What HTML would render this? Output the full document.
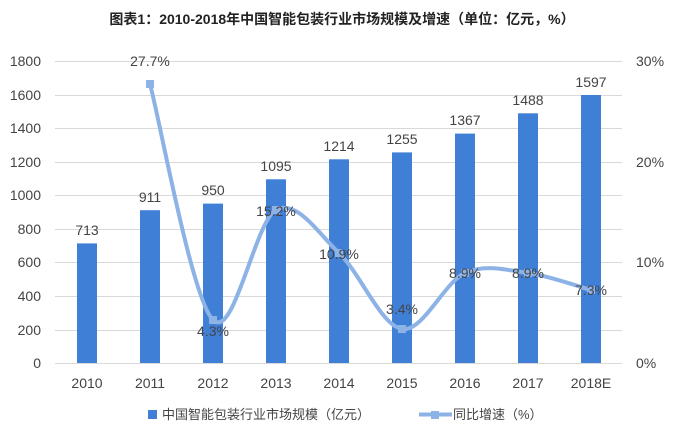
<!DOCTYPE html>
<html><head><meta charset="utf-8"><style>
body{margin:0;background:#fff;}
</style></head><body>
<svg width="684" height="434" xmlns="http://www.w3.org/2000/svg" font-family="'Liberation Sans','Noto Sans CJK SC',sans-serif">
<text x="342" y="24" text-anchor="middle" font-size="14" font-weight="bold" fill="#222">图表1：2010-2018年中国智能包装行业市场规模及增速（单位：亿元，%）</text>
<g stroke="#d9d9d9" stroke-width="1">
<line x1="55" y1="61.5" x2="622" y2="61.5"/><line x1="55" y1="95.5" x2="622" y2="95.5"/>
<line x1="55" y1="128.5" x2="622" y2="128.5"/><line x1="55" y1="162.5" x2="622" y2="162.5"/>
<line x1="55" y1="195.5" x2="622" y2="195.5"/><line x1="55" y1="229.5" x2="622" y2="229.5"/>
<line x1="55" y1="262.5" x2="622" y2="262.5"/><line x1="55" y1="296.5" x2="622" y2="296.5"/>
<line x1="55" y1="330.5" x2="622" y2="330.5"/><line x1="55" y1="363.5" x2="622" y2="363.5"/>
</g>
<g font-size="14" fill="#444" text-anchor="end">
<text x="41" y="66">1800</text><text x="41" y="100">1600</text><text x="41" y="133">1400</text>
<text x="41" y="167">1200</text><text x="41" y="200">1000</text><text x="41" y="234">800</text>
<text x="41" y="267">600</text><text x="41" y="301">400</text><text x="41" y="335">200</text><text x="41" y="368">0</text>
</g>
<g font-size="14" fill="#444">
<text x="636" y="66">30%</text><text x="636" y="267">10%</text><text x="636" y="167">20%</text><text x="636" y="368">0%</text>
</g>
<g fill="#3f7fd6">
<rect x="77" y="243.4" width="20" height="119.6"/>
<rect x="140" y="210.2" width="20" height="152.8"/>
<rect x="203" y="203.6" width="20" height="159.4"/>
<rect x="266" y="179.3" width="20" height="183.7"/>
<rect x="329" y="159.3" width="20" height="203.7"/>
<rect x="392" y="152.4" width="20" height="210.6"/>
<rect x="455" y="133.6" width="20" height="229.4"/>
<rect x="518" y="113.3" width="20" height="249.7"/>
<rect x="581" y="95" width="20" height="268"/>
</g>
<g font-size="14" fill="#444" text-anchor="middle">
<text x="87" y="235">713</text><text x="150" y="202">911</text><text x="213" y="195">950</text>
<text x="276" y="171">1095</text><text x="339" y="151">1214</text><text x="402" y="144">1255</text>
<text x="465" y="125">1367</text><text x="528" y="105">1488</text><text x="591" y="87">1597</text>
</g>
<path d="M150,84 C160.5,123.3 192,299 213,320 C234,341 255,221 276,210 C297,198.8 318,233.2 339,253 C360,272.8 381,325.7 402,329 C423,332.3 444,282.3 465,273 C486,263.7 507,270.2 528,273 C549,275.8 580.5,287.2 591,290" fill="none" stroke="#8db3e6" stroke-width="4"/>
<g fill="#8db3e6">
<rect x="146" y="80" width="8" height="8"/><rect x="209" y="316" width="8" height="8"/>
<rect x="272" y="206" width="8" height="8"/><rect x="335" y="249" width="8" height="8"/>
<rect x="398" y="325" width="8" height="8"/><rect x="461" y="269" width="8" height="8"/>
<rect x="524" y="269" width="8" height="8"/><rect x="587" y="286" width="8" height="8"/>
</g>
<g font-size="14" fill="#444" text-anchor="middle">
<text x="150" y="66">27.7%</text><text x="213" y="336">4.3%</text><text x="276" y="216">15.2%</text>
<text x="339" y="259">10.9%</text><text x="402" y="314">3.4%</text><text x="465" y="278">8.9%</text>
<text x="528" y="278">8.9%</text><text x="591" y="295">7.3%</text>
</g>
<g font-size="14" fill="#444" text-anchor="middle">
<text x="87" y="388">2010</text><text x="150" y="388">2011</text><text x="213" y="388">2012</text>
<text x="276" y="388">2013</text><text x="339" y="388">2014</text><text x="402" y="388">2015</text>
<text x="465" y="388">2016</text><text x="528" y="388">2017</text><text x="591" y="388">2018E</text>
</g>
<rect x="148" y="410" width="9" height="9" fill="#3f7fd6"/>
<text x="162" y="419" font-size="13" fill="#444">中国智能包装行业市场规模（亿元）</text>
<line x1="419" y1="414.5" x2="452" y2="414.5" stroke="#8db3e6" stroke-width="4"/>
<rect x="431" y="411" width="8" height="8" fill="#8db3e6"/>
<text x="453" y="419" font-size="13" fill="#444">同比增速（%）</text>
</svg>
</body></html>
